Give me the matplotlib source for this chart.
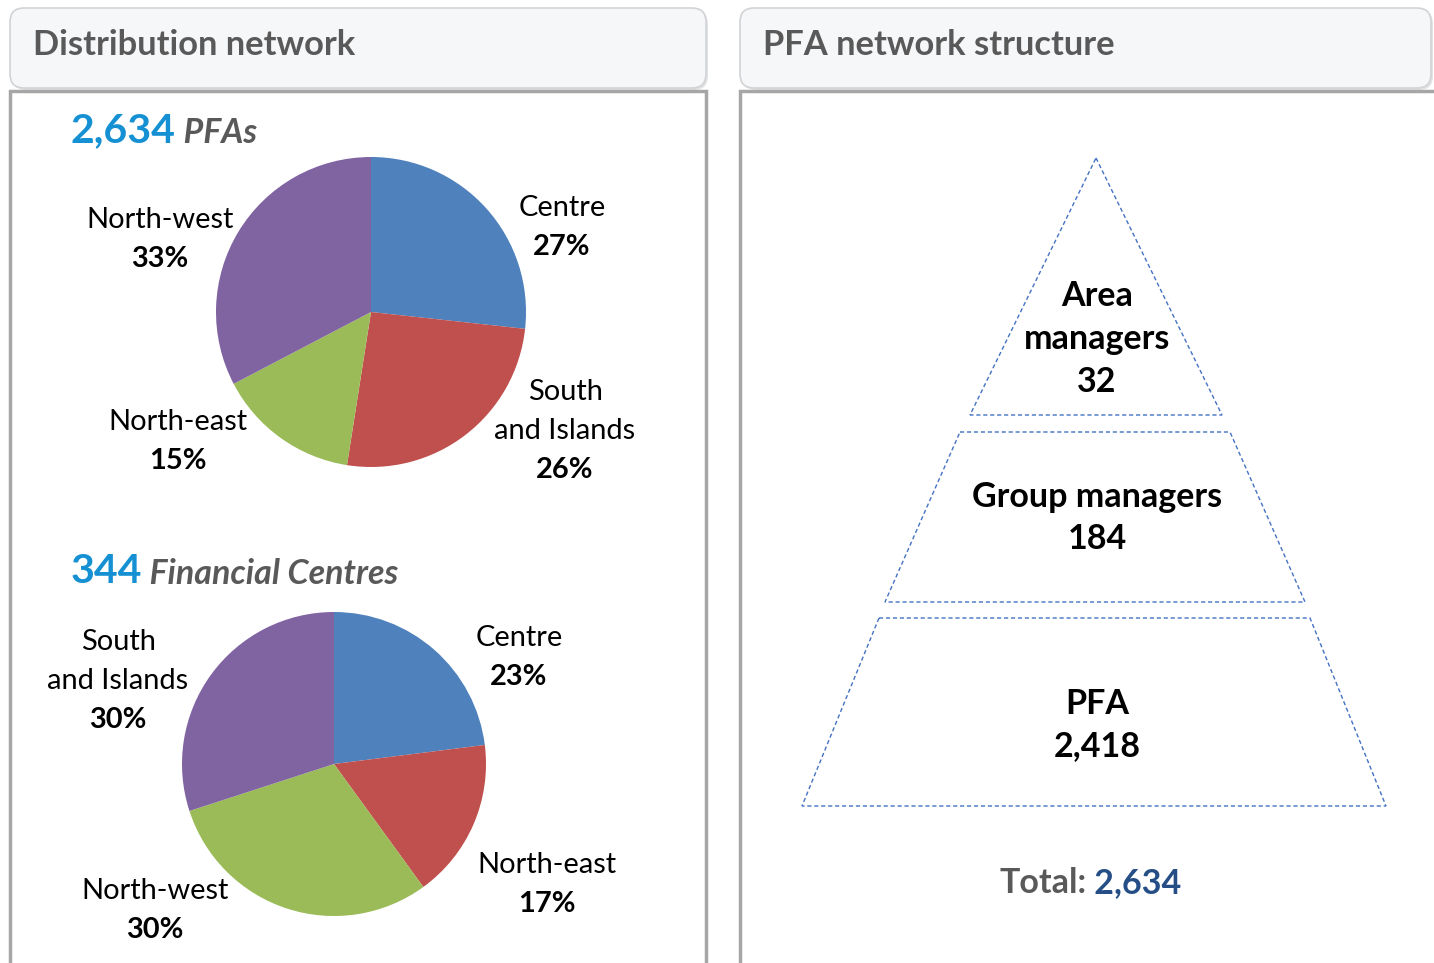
import matplotlib.pyplot as plt
from matplotlib.patches import FancyBboxPatch, Polygon, Rectangle

plt.rcParams["font.family"] = ["Lato", "DejaVu Sans"]

W, H = 1434, 963

# chart data
pfa_regions = ["Centre", "South\nand Islands", "North-east", "North-west"]
pfa_share = [27, 26, 15, 33]
fc_regions = ["Centre", "North-east", "North-west", "South\nand Islands"]
fc_share = [23, 17, 30, 30]
levels = ["Area\nmanagers", "Group managers", "PFA"]
level_counts = [32, 184, 2418]
total_pfa = 2634
total_fc = 344

slice_colors = ["#4F81BD", "#C0504D", "#9BBB59", "#8064A2"]
grey_txt = "#595959"


def Y(y):
    # picture rows (top down) to axes units (bottom up)
    return H - y


def pt(px):
    return px * 0.72


fig = plt.figure(figsize=(W / 100, H / 100), dpi=100)
ax = fig.add_axes([0, 0, 1, 1])

# panels: header bars and grey frames
for x0, x1 in [(10, 706), (740, 1431)]:
    ax.add_patch(FancyBboxPatch((x0 + 2, Y(90)), x1 - x0, 80,
                                boxstyle="round,pad=0,rounding_size=14",
                                fc="#E2E3E5", ec="none"))
    ax.add_patch(FancyBboxPatch((x0, Y(88)), x1 - x0, 80,
                                boxstyle="round,pad=0,rounding_size=14",
                                fc="#F6F7F9", ec="#D2D3D6", lw=1.2))
    ax.add_patch(Rectangle((x0, Y(990)), x1 - x0 + (40 if x0 > 700 else 0), 899,
                           fc="white", ec="#A6A6A6", lw=2.5))

ax.text(33, Y(45), "Distribution network", fontsize=pt(34.5), fontweight="bold",
        color=grey_txt, va="center", ha="left")
ax.text(763, Y(45), "PFA network structure", fontsize=pt(34.5), fontweight="bold",
        color=grey_txt, va="center", ha="left")


def pie_block(values, names, center, radius, label_pos, head_num, head_txt, head_y):
    ax.pie(values, colors=slice_colors, startangle=90, counterclock=False,
           center=(center[0], Y(center[1])), radius=radius,
           wedgeprops=dict(linewidth=0))
    for name, v, (lx, ly) in zip(names, values, label_pos):
        n = name.count("\n") + 1
        ax.text(lx, Y(ly + 2 - 39 * (n + 1) / 2), name, fontsize=pt(29),
                ha="center", va="center", linespacing=1.6, color="black")
        ax.text(lx, Y(ly + 2), f"{v}%", fontsize=pt(29), fontweight="bold",
                ha="center", va="center", color="black")
    t = ax.text(71, Y(head_y), f"{head_num:,}", fontsize=pt(41), fontweight="bold",
                color="#1591D3", ha="left", va="baseline")
    ax.annotate(" " + head_txt, xy=(1, 0), xycoords=t, fontsize=pt(34),
                fontweight="bold", fontstyle="italic", color=grey_txt,
                ha="left", va="bottom")


pie_block(pfa_share, pfa_regions, (371, 312), 155,
          [(562, 245), (565, 468), (178, 459), (160, 257)],
          total_pfa, "PFAs", 142)
pie_block(fc_share, fc_regions, (334, 764), 152,
          [(519, 675), (547, 902), (155, 928), (118, 718)],
          total_fc, "Financial Centres", 583)

# pyramid
shapes = [
    [(1096, 158), (1096, 158), (1222, 415), (970, 415)],
    [(960, 432), (1230, 432), (1305, 602), (885, 602)],
    [(879, 618), (1310, 618), (1386, 806), (802, 806)],
]
text_y = [339, 518, 725]
for shp, lvl, cnt, ty in zip(shapes, levels, level_counts, text_y):
    ax.add_patch(Polygon([(x, Y(y)) for x, y in shp], closed=True, fill=False,
                         ec="#4472C4", lw=1.0, ls=(0, (3, 2))))
    ax.text(1097, Y(ty), f"{lvl}\n{cnt:,}", fontsize=pt(34), fontweight="bold",
            ha="center", va="center", linespacing=1.42, color="black")

t = ax.text(999, Y(893), "Total:", fontsize=pt(34), fontweight="bold",
            color=grey_txt, ha="left", va="baseline")
ax.annotate(f" {total_pfa:,}", xy=(1, 0), xycoords=t, fontsize=pt(34),
            fontweight="bold", color="#254E86", ha="left", va="bottom")

ax.set_xlim(0, W)
ax.set_ylim(0, H)
ax.set_aspect("auto")
ax.axis("off")

fig.savefig("out.png", dpi=100)
